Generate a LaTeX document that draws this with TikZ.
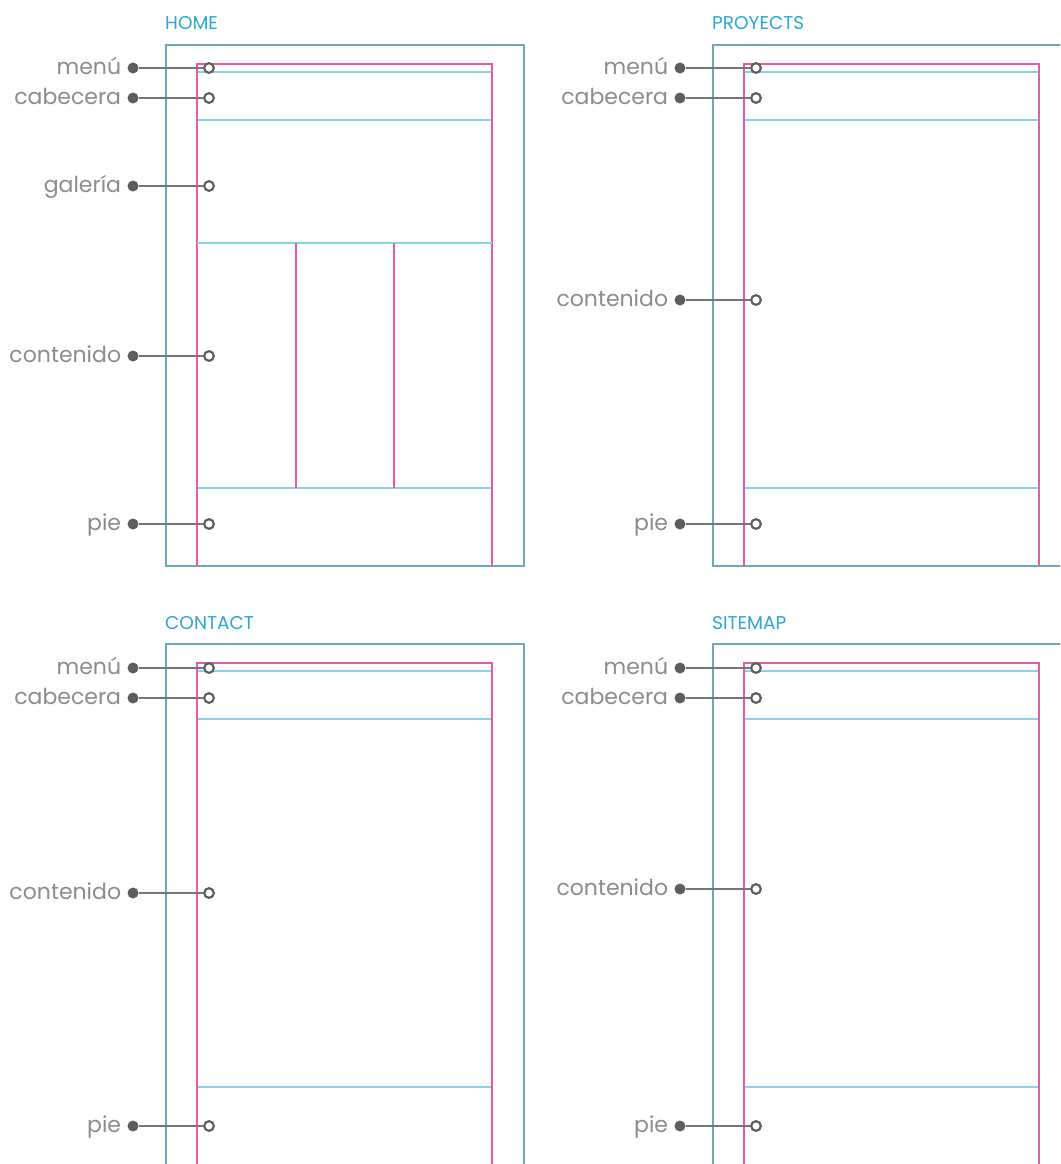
\documentclass[tikz,border=0pt]{standalone}
\usepackage{fontspec}
\setmainfont{Poppins}
\definecolor{teal}{HTML}{6FA8BD}
\definecolor{pinkl}{HTML}{E85AA6}
\definecolor{cyanl}{HTML}{86D3EC}
\definecolor{titlec}{HTML}{2AA7D2}
\definecolor{lblc}{HTML}{8C8C8C}
\definecolor{dotc}{HTML}{5E5E5E}
\tikzset{
  outerbox/.style={draw=teal, line width=1.8pt},
  pinkline/.style={draw=pinkl, line width=1.6pt},
  cyanline/.style={draw=cyanl, line width=1.8pt},
  dotnode/.style={circle, fill=dotc, inner sep=0pt, minimum size=11pt},
  ringnode/.style={circle, draw=dotc, line width=2pt, fill=white, inner sep=0pt, minimum size=9.5pt},
  conn/.style={draw=dotc!85, line width=2.2pt},
  lbl/.style={font=\fontsize{22}{26}\selectfont, text=lblc, text height=13.5pt, text depth=0pt, inner sep=0pt},
  ttl/.style={font=\fontsize{18.5}{22}\selectfont, text=titlec, anchor=base west, inner sep=0pt},
}
\newcommand\callout[4]{%
  \node[dotnode] (#1d) at (#2,#3) {};
  \node[ringnode] (#1r) at (#2+76,#3) {};
  \node[lbl, anchor=east] (#1t) at ([xshift=-6pt]#1d.west) {#4};
  \draw[conn] (#1d) -- (#1r);
  \node[ringnode] at (#1r) {};
}
\newcommand\wfpanel[2]{%
  \draw[outerbox] (#1+166,#2+45) rectangle (#1+524,#2+566);
  \draw[cyanline] (#1+197,#2+72) -- (#1+492,#2+72);
  \draw[cyanline] (#1+197,#2+120) -- (#1+492,#2+120);
  \draw[cyanline] (#1+197,#2+488) -- (#1+492,#2+488);
  \draw[pinkline] (#1+197,#2+566) -- (#1+197,#2+64) -- (#1+492,#2+64) -- (#1+492,#2+566);
}
\begin{document}
\begin{tikzpicture}[x=1pt,y=-1pt]
\clip (0,0) rectangle (1060,1164);
\fill[white] (0,0) rectangle (1060,1164);
% panels
\wfpanel{0}{0}
\wfpanel{547}{0}
\wfpanel{0}{599}
\wfpanel{547}{599}
% home extra
\draw[cyanline] (197,243) -- (492,243);
\draw[pinkline] (296,243) -- (296,488);
\draw[pinkline] (394,243) -- (394,488);
% titles
\node[ttl] (thome) at (165,30) {HOME};
\node[ttl] (tproy) at (712,30) {PROYECTS};
\node[ttl] (tcont) at (165,629) {CONTACT};
\node[ttl] (tsite) at (712,629) {SITEMAP};
% callouts HOME
\callout{ha}{133}{68}{menú}
\callout{hb}{133}{98}{cabecera}
\callout{hc}{133}{186}{galería}
\callout{hd}{133}{356}{contenido}
\callout{he}{133}{524}{pie}
% PROYECTS
\callout{pa}{680}{68}{menú}
\callout{pb}{680}{98}{cabecera}
\callout{pd}{680}{300}{contenido}
\callout{pe}{680}{524}{pie}
% CONTACT
\callout{ca}{133}{668}{menú}
\callout{cb}{133}{698}{cabecera}
\callout{cd}{133}{893}{contenido}
\callout{ce}{133}{1126}{pie}
% SITEMAP
\callout{sa}{680}{668}{menú}
\callout{sb}{680}{698}{cabecera}
\callout{sd}{680}{889}{contenido}
\callout{se}{680}{1126}{pie}
\end{tikzpicture}
\end{document}
